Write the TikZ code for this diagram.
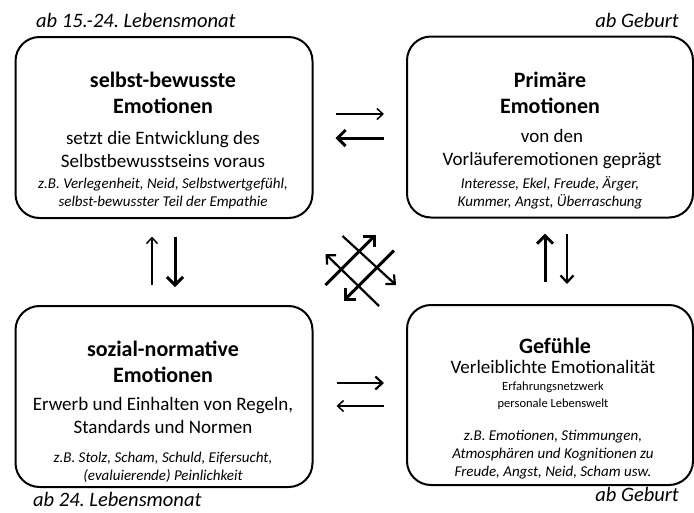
\documentclass[tikz,border=0pt]{standalone}
\usepackage{fontspec}
\setmainfont{Carlito}
\frenchspacing
\usetikzlibrary{arrows.meta}
\tikzset{
	box/.style={draw, line width=2pt, rounded corners=24pt, minimum width=297pt, minimum height=181pt},
	titel/.style={font=\bfseries\fontsize{22}{26}\selectfont, align=center, inner sep=0pt},
	desc/.style={font=\fontsize{19}{23}\selectfont, align=center, inner sep=0pt},
	klein/.style={font=\fontsize{12.5}{17}\selectfont, align=center, inner sep=0pt},
	bsp/.style={font=\itshape\fontsize{15}{18}\selectfont, align=center, inner sep=0pt},
	alter/.style={font=\itshape\fontsize{20.5}{24}\selectfont, inner sep=0pt},
	duenn/.style={line width=1.5pt, -{Straight Barb[length=6pt,width=11pt]}},
	mittel/.style={line width=2.2pt, -{Straight Barb[length=7pt,width=13pt]}},
	dick/.style={line width=3pt, -{Straight Barb[length=8pt,width=16pt]}}
}
\begin{document}
\begin{tikzpicture}[x=1pt,y=-1pt]
	\useasboundingbox (0,0) rectangle (694,512);
	% Kästen
	\node[box] (sbe) at (164,127.5) {};
	\node[box, minimum width=286pt] (pri) at (550,127) {};
	\node[box] (soz) at (164,396.5) {};
	\node[box, minimum width=286pt, minimum height=180pt] (gef) at (550,395) {};
	% Texte
	\node[titel] (sbeT) at (163,93) {selbst-bewusste\\Emotionen};
	\node[desc] (sbeD) at (163,149.5) {setzt die Entwicklung des\\Selbstbewusstseins voraus};
	\node[bsp] (sbeB) at (163,193) {z.B. Verlegenheit, Neid, Selbstwertgefühl,\\selbst-bewusster Teil der Empathie};
	\node[titel] (priT) at (550,93) {Primäre\\Emotionen};
	\node[desc] (priD) at (552,149.5) {von den\\Vorläuferemotionen geprägt};
	\node[bsp] (priB) at (550,193) {Interesse, Ekel, Freude, Ärger,\\Kummer, Angst, Überraschung};
	\node[titel] (sozT) at (163,362) {sozial-normative\\Emotionen};
	\node[desc] (sozD) at (163,415.5) {Erwerb und Einhalten von Regeln,\\Standards und Normen};
	\node[bsp] (sozB) at (163,467) {z.B. Stolz, Scham, Schuld, Eifersucht,\\(evaluierende) Peinlichkeit};
	\node[titel] (gefT) at (555,346) {Gefühle};
	\node[desc] (gefD) at (553,367) {Verleiblichte Emotionalität};
	\node[klein] (gefK) at (553,396) {Erfahrungsnetzwerk\\personale Lebenswelt};
	\node[bsp] (gefB) at (553,454.5) {z.B. Emotionen, Stimmungen,\\Atmosphären und Kognitionen zu\\Freude, Angst, Neid, Scham usw.};
	% Alter
	\node[alter, anchor=west] (a1) at (36,20) {ab 15.-24. Lebensmonat};
	\node[alter, anchor=east] (a2) at (679,20) {ab Geburt};
	\node[alter, anchor=west] (a3) at (33,499) {ab 24. Lebensmonat};
	\node[alter, anchor=east] (a4) at (679,494) {ab Geburt};
	% Pfeile
	\draw[duenn] ([xshift=22pt,yshift=13.5pt]sbe.east) -- ([xshift=-22pt,yshift=13pt]pri.west);
	\draw[dick] ([xshift=-22pt,yshift=-11pt]pri.west) -- ([xshift=22pt,yshift=-10.5pt]sbe.east);
	\draw[mittel] ([xshift=23pt,yshift=13.5pt]soz.east) -- ([xshift=-22pt,yshift=12pt]gef.west);
	\draw[duenn] ([xshift=-22pt,yshift=-11pt]gef.west) -- ([xshift=23pt,yshift=-9.5pt]soz.east);
	\draw[duenn] ([xshift=-12pt,yshift=20pt]soz.north) -- ([xshift=-12pt,yshift=-17.5pt]sbe.south);
	\draw[dick] ([xshift=11pt,yshift=-17.5pt]sbe.south) -- ([xshift=11pt,yshift=18pt]soz.north);
	\draw[dick] ([xshift=-5pt,yshift=22pt]gef.north) -- ([xshift=-5pt,yshift=-15pt]pri.south);
	\draw[mittel] ([xshift=17pt,yshift=-15pt]pri.south) -- ([xshift=17pt,yshift=20pt]gef.north);
	% diagonal
	\draw[dick] ([xshift=12pt,yshift=20pt]soz.north east) -- ([xshift=-30pt,yshift=-16pt]pri.south west);
	\draw[dick] ([xshift=-12pt,yshift=-32pt]pri.south west) -- ([xshift=30pt,yshift=4pt]soz.north east);
	\draw[mittel] ([xshift=29pt,yshift=-17pt]sbe.south east) -- ([xshift=-10pt,yshift=19pt]gef.north west);
	\draw[mittel] ([xshift=-27pt,yshift=-2pt]gef.north west) -- ([xshift=12pt,yshift=-35pt]sbe.south east);
\end{tikzpicture}
\end{document}
